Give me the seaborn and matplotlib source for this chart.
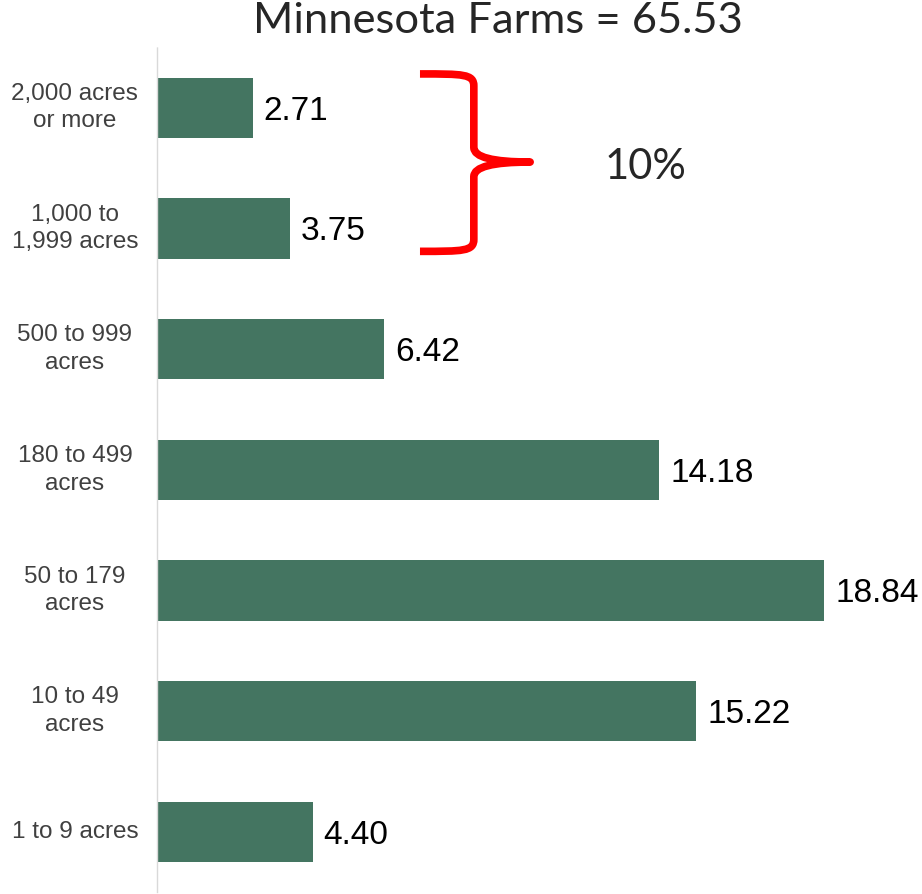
import matplotlib
matplotlib.use("Agg")
import matplotlib.pyplot as plt
from matplotlib.path import Path
from matplotlib.patches import PathPatch
import seaborn as sns
import pandas as pd

# Data
sizes = ["2,000 acres\nor more", "1,000 to\n1,999 acres", "500 to 999\nacres",
         "180 to 499\nacres", "50 to 179\nacres", "10 to 49\nacres", "1 to 9 acres"]
farms = [2.71, 3.75, 6.42, 14.18, 18.84, 15.22, 4.40]
title_text = "Minnesota Farms = 65.53"
brace_text = "10%"

df = pd.DataFrame({"size": sizes, "farms": farms})

sns.set_style("white")
plt.rcParams['font.family'] = ['Liberation Sans', 'DejaVu Sans']

fig = plt.figure(figsize=(9.22, 8.94), dpi=100)
ax = fig.add_axes([0.170, 0.002, 0.830, 0.945])

sns.barplot(data=df, y="size", x="farms", order=sizes, color="#447561",
            saturation=1, width=0.5, ax=ax)
for p in ax.patches:
    p.set_edgecolor("none")

ax.set_xlim(0, 21.6)
ax.set_ylim(6.5, -0.5)
vals = ax.bar_label(ax.containers[0], fmt="%.2f", padding=8, fontsize=24, color="black")
for t in vals:
    t.set_va("center_baseline")

ax.set_xlabel("")
ax.set_ylabel("")
ax.set_xticks([])
ax.tick_params(axis="y", length=0, pad=20, labelsize=17.5, labelcolor="#404040")
for lbl in ax.get_yticklabels():
    lbl.set_horizontalalignment("center")
    lbl.set_verticalalignment("center")
    lbl.set_linespacing(1.32)
    lbl.set_x(-0.0706)
for s in ["top", "right", "bottom"]:
    ax.spines[s].set_visible(False)
ax.spines["left"].set_color("#d9d9d9")
ax.spines["left"].set_linewidth(1)
ax.spines["left"].set_linestyle((0, (2, 1)))

fig.text(0.54, 0.977, title_text, ha="center", va="center", fontsize=31.3,
         family=["Lato", "DejaVu Sans"])

# red brace over the two largest size classes
xl, xv, xt = 7.43, 8.95, 10.54
yt, ym, yb = -0.28, 0.45, 1.19
verts = [(xl, yt), (xv - 0.3, yt), (xv, yt), (xv, yt + 0.1),
         (xv, ym - 0.12), (xv, ym), (xt, ym),
         (xv, ym), (xv, ym + 0.12),
         (xv, yb - 0.1), (xv, yb), (xv - 0.3, yb), (xl, yb)]
codes = [Path.MOVETO, Path.CURVE4, Path.CURVE4, Path.CURVE4,
         Path.LINETO, Path.CURVE3, Path.CURVE3,
         Path.CURVE3, Path.CURVE3,
         Path.LINETO, Path.CURVE4, Path.CURVE4, Path.CURVE4]
brace = PathPatch(Path(verts, codes), facecolor="none", edgecolor="#ff0000",
                  lw=5.5, clip_on=False, capstyle="butt", joinstyle="round")
ax.add_patch(brace)
ax.text(13.8, ym + 0.04, brace_text, ha="center", va="center", fontsize=30,
        family=["Lato", "DejaVu Sans"])

fig.savefig("out.png", dpi=100)
